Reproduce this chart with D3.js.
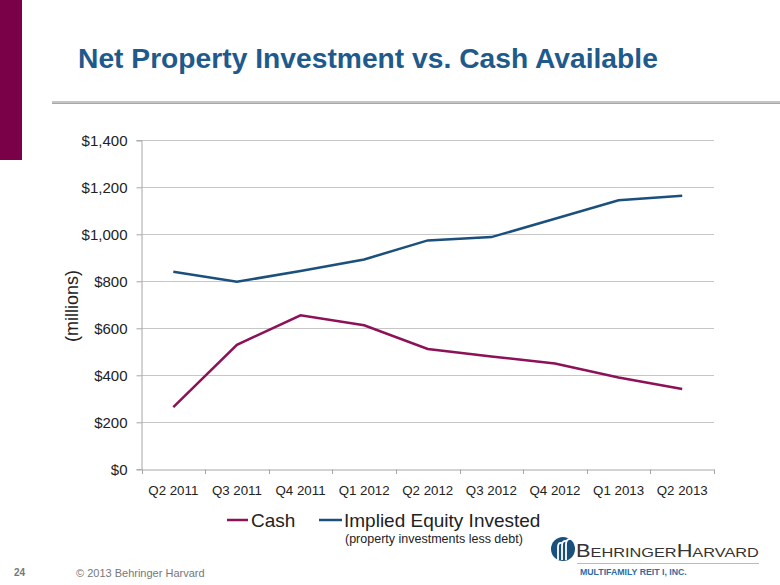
<!DOCTYPE html>
<html><head><meta charset="utf-8">
<script src="https://cdn.jsdelivr.net/npm/d3@7"></script>
<style>body{margin:0;background:#fff}svg{display:block}text{font-family:"Liberation Sans",Arial,sans-serif}</style>
</head><body><svg id="c" width="780" height="585"></svg>
<script>
const categories = ["Q2 2011","Q3 2011","Q4 2011","Q1 2012","Q2 2012","Q3 2012","Q4 2012","Q1 2013","Q2 2013"];
const cashValues = [265, 530, 655, 613, 512, 480, 450, 391, 342];
const equityValues = [841, 798, 844, 893, 974, 988, 1066, 1145, 1164];
const yTicks = [0, 200, 400, 600, 800, 1000, 1200, 1400];
const seriesNames = ["Cash", "Implied Equity Invested"];

const svg = d3.select("#c");
const colCash = "#8C1157", colEq = "#1B4F7C";

// left maroon bar
svg.append("rect").attr("x",0).attr("y",0).attr("width",22).attr("height",160).attr("fill","#7A0047");
// title
const title = svg.append("text").attr("x",78).attr("y",68).attr("fill","#1F5A8C")
  .attr("font-size",28.5).attr("font-weight","bold").text("Net Property Investment vs. Cash Available");
const tw = title.node().getComputedTextLength();
title.attr("transform",`translate(78,0) scale(${580/tw},1) translate(-78,0)`);
// grey rule
svg.append("rect").attr("x",52).attr("y",101).attr("width",728).attr("height",3).attr("fill","#c4c4c4");
svg.append("rect").attr("x",52).attr("y",103).attr("width",728).attr("height",1).attr("fill","#a8a8a8");

const x = d3.scaleBand().domain(categories).range([141.5, 714]);
const y = d3.scaleLinear().domain([0, 1400]).range([469.3, 140.3]);
const cx = d => x(d) + x.bandwidth()/2;

// gridlines
svg.append("g").selectAll("line").data(yTicks.slice(1)).join("line")
  .attr("x1",141.5).attr("x2",714).attr("y1",d=>Math.round(y(d))+0.5).attr("y2",d=>Math.round(y(d))+0.5)
  .attr("stroke","#c6c6c6").attr("stroke-width",1);

// y axis
const yAxis = svg.append("g").attr("transform","translate(141.5,0)")
  .call(d3.axisLeft(y).tickValues(yTicks).tickFormat(d3.format("$,")).tickSize(5).tickPadding(9));
yAxis.select(".domain").attr("stroke","#a6a6a6");
yAxis.selectAll(".tick line").attr("stroke","#a6a6a6");
yAxis.selectAll("text").attr("font-size",15).attr("fill","#222").attr("font-family","Liberation Sans, Arial, sans-serif");

// x axis
const xAxis = svg.append("g").attr("transform","translate(0,469.5)")
  .call(d3.axisBottom(x).tickSize(0).tickPadding(16));
xAxis.select(".domain").attr("stroke","#a6a6a6");
xAxis.selectAll("text").attr("font-size",13.3).attr("fill","#222").attr("font-family","Liberation Sans, Arial, sans-serif");
svg.append("g").selectAll("line").data(categories.concat(["_end"])).join("line")
  .attr("x1",(d,i)=>Math.round(141.5 + i*x.step())+0.5).attr("x2",(d,i)=>Math.round(141.5 + i*x.step())+0.5)
  .attr("y1",469.5).attr("y2",474).attr("stroke","#a6a6a6");

// y title
svg.append("text").attr("transform","translate(78,306) rotate(-90)").attr("text-anchor","middle")
  .attr("font-size",18).attr("fill","#222").text("(millions)");

// lines
const line = d3.line().x((d,i)=>cx(categories[i])).y(d=>y(d));
svg.append("path").datum(equityValues).attr("d",line).attr("fill","none").attr("stroke",colEq).attr("stroke-width",2.5);
svg.append("path").datum(cashValues).attr("d",line).attr("fill","none").attr("stroke",colCash).attr("stroke-width",2.5);

// legend
const leg = svg.append("g");
leg.append("line").attr("x1",227).attr("x2",248).attr("y1",520).attr("y2",520).attr("stroke",colCash).attr("stroke-width",2.5);
leg.append("text").attr("x",251).attr("y",527).attr("font-size",19).attr("fill","#222").text(seriesNames[0]);
leg.append("line").attr("x1",319).attr("x2",342).attr("y1",520).attr("y2",520).attr("stroke",colEq).attr("stroke-width",2.5);
leg.append("text").attr("x",344).attr("y",527).attr("font-size",19).attr("fill","#222").text(seriesNames[1]);
leg.append("text").attr("x",345).attr("y",543).attr("font-size",12.5).attr("fill","#222").text("(property investments less debt)");

// logo
const logo = svg.append("g");
logo.append("circle").attr("cx",563).attr("cy",549).attr("r",12).attr("fill","#1B4F7C");
[[-5,4],[-1,4],[3,4]].forEach(([dx,w],i)=>{
  logo.append("path").attr("d",`M${563+dx},${560} L${563+dx},${547-i*1.5} Q${563+dx},${542-i*2} ${563+dx+4+i},${543-i*2}`)
    .attr("fill","none").attr("stroke","#fff").attr("stroke-width",1.8);
});
const bh = logo.append("text").attr("x",576).attr("y",557).attr("fill","#333")
  .attr("font-family","Liberation Serif, Times New Roman, serif").attr("font-size",18);
bh.append("tspan").text("B"); bh.append("tspan").attr("font-size",13.5).text("EHRINGER");
bh.append("tspan").text("H"); bh.append("tspan").attr("font-size",13.5).text("ARVARD");
const bw = bh.node().getComputedTextLength();
bh.attr("transform",`translate(576,0) scale(${183/bw},1) translate(-576,0)`);
logo.append("line").attr("x1",577).attr("x2",759).attr("y1",563.5).attr("y2",563.5).attr("stroke","#bbb").attr("stroke-width",1);
const mf = logo.append("text").attr("x",580).attr("y",575).attr("fill","#2E6DA4").attr("font-size",9.5)
  .attr("font-weight","bold").text("MULTIFAMILY REIT I, INC.");
const mw = mf.node().getComputedTextLength();
mf.attr("transform",`translate(580,0) scale(${107/mw},1) translate(-580,0)`);

// footer
svg.append("text").attr("x",14).attr("y",576).attr("font-size",10).attr("font-weight","bold").attr("fill","#777").text("24");
svg.append("text").attr("x",76).attr("y",577).attr("font-size",11).attr("fill","#777").text("© 2013 Behringer Harvard");
</script></body></html>
